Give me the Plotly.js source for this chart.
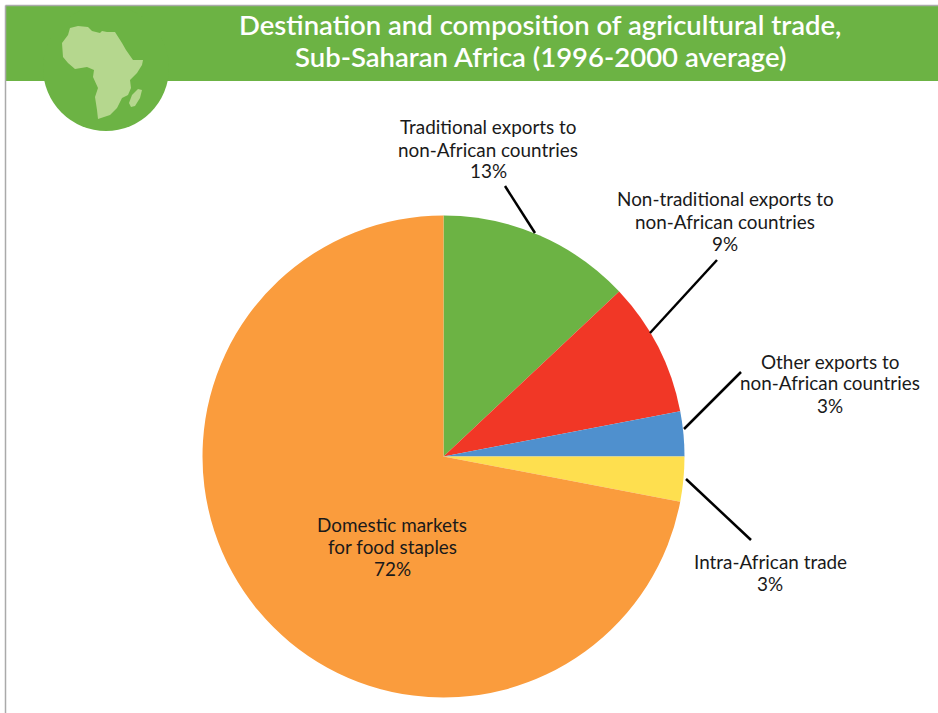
<!DOCTYPE html>
<html>
<head>
<meta charset="utf-8">
<script src="https://cdn.plot.ly/plotly-3.0.1.min.js"></script>
<style>html,body{margin:0;padding:0;background:#fff}#chart{width:938px;height:713px}</style>
</head>
<body>
<div id="chart"></div>
<script>
// Share of agricultural trade by destination and product type
const categories = [
  "Traditional exports to<br>non-African countries",
  "Non-traditional exports to<br>non-African countries",
  "Other exports to<br>non-African countries",
  "Intra-African trade",
  "Domestic markets<br>for food staples"
];
const shares = [13, 9, 3, 3, 72];
const sliceColors = ["#6cb344", "#f13726", "#4f90ce", "#fedf4f", "#fa9c3d"];
const titleLines = [
  "Destination and composition of agricultural trade,",
  "Sub-Saharan Africa (1996-2000 average)"
];

// Label centre x and first-line y, plus leader lines, in page pixels
const labelAnchors = [[488, 127], [725, 199], [830, 361], [770, 561], [392, 524]];
const labelLineStep = 22;
const leaders = [
  [[505, 186], [535, 233]],
  [[717, 260], [650, 333]],
  [[741, 372], [684, 429]],
  [[751, 540], [686, 479]]
];

// Outline of the continent on the header badge, in page pixels
const africaOutline = [[70,28],[78,26],[88,27],[92,31],[100,33],[102,31],[107,32],[115,32],[122,43],[126,50],[133,60],[143,60],[142,65],[137,73],[130,80],[131,88],[128,95],[122,98],[117,108],[110,115],[98,119],[97,110],[95,97],[98,88],[93,77],[94,70],[87,67],[75,69],[68,63],[63,57],[62,43],[68,35]];
const madagascarOutline = [[138,89],[142,90],[140,98],[135,106],[131,107],[129,103],[132,95]];

const W = 938, H = 713;
const px = x => x / W;
const py = y => 1 - y / H;
const polygon = pts => "M" + pts.map(p => px(p[0]) + "," + py(p[1])).join("L") + "Z";
const paperShape = o => Object.assign({xref: "paper", yref: "paper"}, o);

const shapes = [
  paperShape({type: "rect", x0: px(6), x1: px(938), y0: py(6), y1: py(81), fillcolor: "#6cb344", line: {width: 0}}),
  paperShape({type: "circle", x0: px(43), x1: px(169), y0: py(5), y1: py(131), fillcolor: "#6cb344", line: {width: 0}}),
  paperShape({type: "path", path: polygon(africaOutline), fillcolor: "#b5d78e", line: {width: 0}}),
  paperShape({type: "path", path: polygon(madagascarOutline), fillcolor: "#b5d78e", line: {width: 0}}),
  paperShape({type: "line", x0: px(5.5), x1: px(938), y0: py(5.5), y1: py(5.5), line: {color: "#aaaaaa", width: 1.5}}),
  paperShape({type: "line", x0: px(5.5), x1: px(5.5), y0: py(5.5), y1: py(713), line: {color: "#aaaaaa", width: 1.5}})
].concat(leaders.map(l => paperShape({
  type: "line", x0: px(l[0][0]), y0: py(l[0][1]), x1: px(l[1][0]), y1: py(l[1][1]),
  line: {color: "#000000", width: 2.5}
})));

// Each text line is its own annotation so the line spacing stays tighter than the default
const textLine = (text, x, y, font) => ({
  xref: "paper", yref: "paper", x: px(x), y: py(y),
  xanchor: "center", yanchor: "middle", align: "center", showarrow: false, text, font
});
const labelFont = {family: "Lato, sans-serif", size: 18.9, color: "#1a1a1a"};
const titleFont = {family: "Lato, sans-serif", size: 27.5, color: "#ffffff", weight: 600};

const annotations = [];
categories.forEach((c, i) => {
  const [x, y0] = labelAnchors[i];
  c.split("<br>").concat(shares[i] + "%").forEach((line, k) => {
    annotations.push(textLine(line, x, y0 + k * labelLineStep, labelFont));
  });
});
titleLines.forEach((line, k) => annotations.push(textLine(line, 540, 24 + k * 32.5, titleFont)));

Plotly.newPlot("chart", [{
  type: "pie",
  values: shares,
  labels: categories,
  sort: false,
  direction: "clockwise",
  rotation: 0,
  textinfo: "none",
  hoverinfo: "none",
  showlegend: false,
  marker: {colors: sliceColors, line: {width: 0}},
  domain: {x: [px(202.5), px(684.5)], y: [py(697.5), py(215.5)]}
}], {
  width: W, height: H,
  margin: {l: 0, r: 0, t: 0, b: 0},
  paper_bgcolor: "#ffffff",
  showlegend: false,
  shapes, annotations
}, {staticPlot: true, displayModeBar: false});
</script>
</body>
</html>
